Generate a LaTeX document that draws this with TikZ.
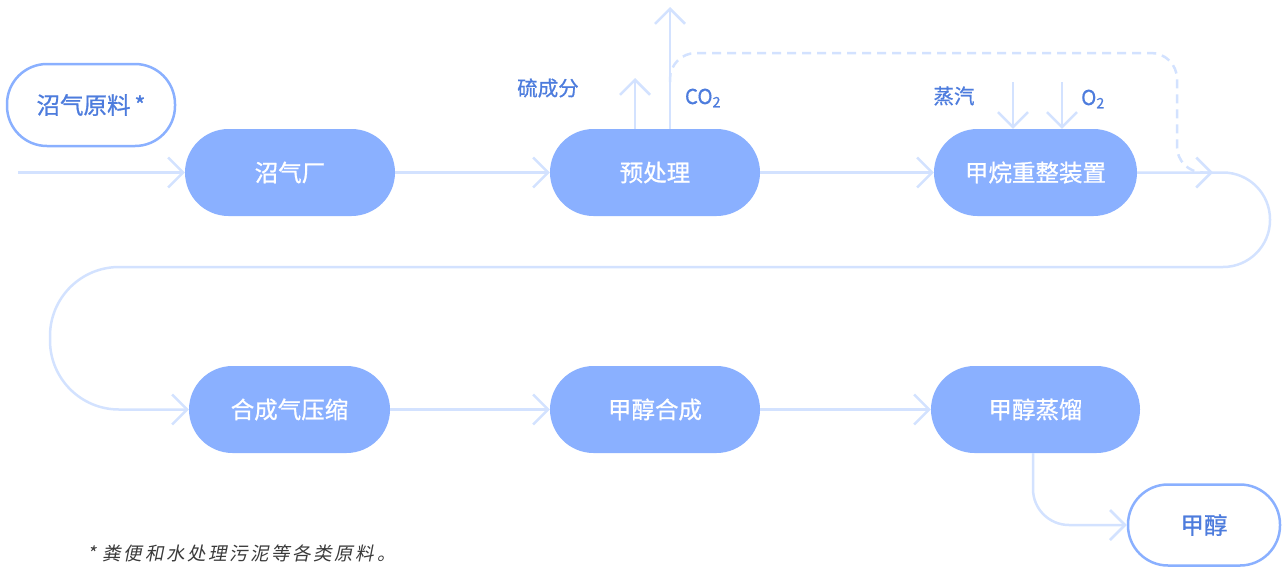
\documentclass[tikz,border=0pt]{standalone}
\usepackage{fontspec}
\setmainfont{Noto Sans CJK SC}
\newfontfamily\nodefont[FakeBold=0.9]{Noto Sans CJK SC}
\newfontfamily\labfont[FakeBold=0.7]{Noto Sans CJK SC}
\newfontfamily\notefont[FakeSlant=0.2,LetterSpace=14]{Noto Sans CJK SC}
\usetikzlibrary{arrows.meta}
\definecolor{fillblue}{HTML}{8AB0FF}
\definecolor{linec}{HTML}{D3E2FF}
\definecolor{labc}{HTML}{4D7CDD}
\definecolor{notec}{HTML}{3A3A3A}
\begin{document}
\begin{tikzpicture}[x=1pt,y=-1pt,
  proc/.style={fill=fillblue, draw=none, rounded corners=43.5pt, minimum height=87pt,
    minimum width=210pt, text=white, font=\nodefont\fontsize{23.5}{23.5}\selectfont, inner sep=0pt},
  term/.style={draw=fillblue, line width=2.5pt, fill=white, rounded corners=40pt,
    minimum height=80pt, text=labc, font=\nodefont\fontsize{23.5}{23.5}\selectfont, inner sep=0pt},
  conn/.style={draw=linec, line width=2.5pt, -{Straight Barb[length=15pt,width=30pt]}},
  plain/.style={draw=linec, line width=2.5pt},
  dashconn/.style={conn, dash pattern=on 9pt off 6pt},
  lab/.style={text=labc, font=\labfont\fontsize{20.5}{20.5}\selectfont, inner sep=0pt}]
\useasboundingbox (0,0) rectangle (1284,568);

% nodes
\node[term, minimum width=168pt, minimum height=82pt] (raw) at (91,105) {沼气原料\,*};
\node[proc] (plant) at (290,172.5) {沼气厂};
\node[proc] (pre) at (655,172.5) {预处理};
\node[proc, minimum width=203pt] (reform) at (1035.5,172.5) {甲烷重整装置};
\node[proc, minimum width=201pt] (comp) at (289.5,409.5) {合成气压缩};
\node[proc] (synth) at (655,409.5) {甲醇合成};
\node[proc, minimum width=209pt] (dist) at (1035.5,409.5) {甲醇蒸馏};
\node[term, minimum width=152pt, minimum height=81pt] (meoh) at (1204,525) {甲醇};

% labels
\node[lab] (sulfur) at (548,88) {硫成分};
\node[lab] (co2) at (703,98) {CO\textsubscript{2}};
\node[lab] (steamlab) at (954,96) {蒸汽};
\node[lab] (o2lab) at (1093,99) {O\textsubscript{2}};
\node[anchor=west, text=notec, inner sep=0pt, font=\notefont\fontsize{18.5}{18.5}\selectfont] (note) at (87,553) {*\hspace{7pt}粪便和水处理污泥等各类原料。};

% coordinates
\coordinate (in) at (18,172.5);
\coordinate (r1) at (1270,172.5);
\coordinate (r2) at (1270,267);
\coordinate (mid) at (600,267);
\coordinate (l1) at (50,267);
\coordinate (l2) at (50,409.5);
\coordinate (co2top) at (670,7);
\coordinate (stop) at (635,78);
\coordinate (steam) at (1013,82);
\coordinate (o2) at (1062,82);
\coordinate (dsplit) at (670,82);
\coordinate (d1) at (670,53);
\coordinate (d2) at (1177,53);
\coordinate (d3) at (1177,172.5);
\coordinate (dend) at (1213,172.5);
\coordinate (b1) at (1033,525);

% main flow
\draw[conn] (in) -- (plant.west);
\draw[conn] (plant.east) -- (pre.west);
\draw[conn] (pre.east) -- (reform.west);
\draw[plain, rounded corners=47pt] (reform.east) -- (r1) -- (r2) -- (mid);
\draw[conn, rounded corners=69pt] (mid) -- (l1) -- (l2) -- (comp.west);
\draw[conn] (comp.east) -- (synth.west);
\draw[conn] (synth.east) -- (dist.west);
\draw[conn, rounded corners=36pt] (dist.south -| b1) -- (b1) -- (meoh.west);

% side streams
\draw[conn] (pre.north -| co2top) -- (co2top);
\draw[conn] (pre.north -| stop) -- (stop);
\draw[conn] (steam) -- (reform.north -| steam);
\draw[conn] (o2) -- (reform.north -| o2);
\draw[dashconn, rounded corners=26pt] (dsplit) -- (d1) -- (d2) -- (d3) -- (dend);
\end{tikzpicture}
\end{document}
